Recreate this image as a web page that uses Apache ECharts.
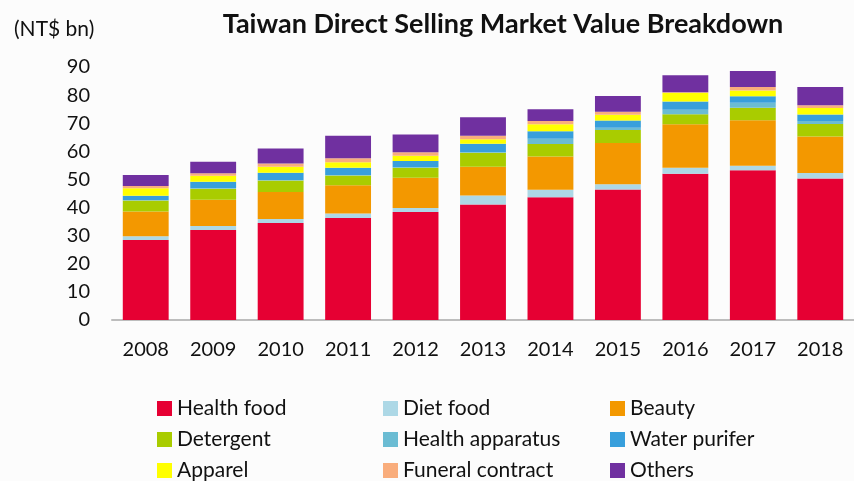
<!DOCTYPE html>
<html>
<head>
<meta charset="utf-8">
<script src="https://cdn.jsdelivr.net/npm/echarts@6/dist/echarts.min.js"></script>
<style>
  html, body { margin: 0; padding: 0; background: #fcfcfc; }
  #main { width: 854px; height: 481px; }
</style>
</head>
<body>
<div id="main"></div>
<script>
var years = ['2008','2009','2010','2011','2012','2013','2014','2015','2016','2017','2018'];

// NT$ bn
var healthFood      = [28.5, 32.0, 34.5, 36.3, 38.4, 41.1, 43.7, 46.4, 52.0, 53.3, 50.3];
var dietFood        = [1.3, 1.4, 1.4, 1.6, 1.4, 3.2, 2.6, 1.9, 2.2, 1.6, 2.0];
var beauty          = [8.8, 9.4, 9.6, 10.0, 10.8, 10.2, 11.9, 14.7, 15.4, 16.2, 13.0];
var detergent       = [3.9, 3.9, 4.1, 3.5, 3.6, 5.0, 4.4, 4.6, 3.6, 4.4, 4.4];
var healthApparatus = [0.2, 0.2, 0.2, 0.2, 0.2, 0.3, 1.9, 0.8, 1.6, 1.8, 1.1];
var waterPurifier   = [1.5, 2.3, 2.6, 2.6, 2.2, 2.9, 2.6, 2.6, 2.9, 2.3, 2.3];
var apparel         = [2.7, 2.1, 2.1, 1.9, 1.8, 1.6, 2.5, 2.0, 3.1, 2.0, 2.3];
var funeral         = [0.8, 0.9, 1.2, 1.4, 1.3, 1.2, 1.2, 1.1, 0.2, 1.3, 1.0];
var others          = [3.9, 4.1, 5.3, 8.0, 6.3, 6.6, 4.2, 5.6, 6.1, 5.7, 6.5];

var font = 'Lato, "Open Sans", sans-serif';

var chart = echarts.init(document.getElementById('main'));

function bar(name, data, color) {
  return {
    name: name,
    type: 'bar',
    stack: 'total',
    barCategoryGap: '32%',
    data: data,
    itemStyle: { color: color },
    emphasis: { disabled: true }
  };
}

var legendBase = {
  orient: 'vertical',
  top: 398,
  height: 83,
  padding: 0,
  itemWidth: 15,
  itemHeight: 15,
  itemGap: 10,
  icon: 'rect',
  selectedMode: false,
  textStyle: { fontFamily: font, fontSize: 21, color: '#111', lineHeight: 20 }
};

var option = {
  backgroundColor: '#fcfcfc',
  animation: false,
  title: [
    {
      text: 'Taiwan Direct Selling Market Value Breakdown',
      left: 498,
      textAlign: 'center',
      top: 6,
      textStyle: { fontFamily: font, fontSize: 27, fontWeight: 'bold', color: '#111' }
    },
    {
      text: '(NT$ bn)',
      left: 9,
      top: 14,
      textStyle: { fontFamily: font, fontSize: 21, fontWeight: 'normal', color: '#111' }
    }
  ],
  legend: [
    Object.assign({}, legendBase, { left: 157, data: ['Health food', 'Detergent', 'Apparel'] }),
    Object.assign({}, legendBase, { left: 383, data: ['Diet food', 'Health apparatus', 'Funeral contract'] }),
    Object.assign({}, legendBase, { left: 610, data: ['Beauty', 'Water purifer', 'Others'] })
  ],
  grid: {
    left: 112,
    top: 67,
    width: 748,
    height: 253
  },
  xAxis: {
    type: 'category',
    data: years,
    axisTick: { show: false },
    axisLine: { lineStyle: { color: '#bdbdbd', width: 2 } },
    axisLabel: { fontFamily: font, fontSize: 20, color: '#111', margin: 20 }
  },
  yAxis: {
    type: 'value',
    min: 0,
    max: 90,
    interval: 10,
    axisLine: { show: false },
    axisTick: { show: false },
    splitLine: { show: false },
    axisLabel: { fontFamily: font, fontSize: 20, color: '#111', margin: 22 }
  },
  series: [
    bar('Health food', healthFood, '#e60033'),
    bar('Diet food', dietFood, '#add8e6'),
    bar('Beauty', beauty, '#f39800'),
    bar('Detergent', detergent, '#a9cc00'),
    bar('Health apparatus', healthApparatus, '#6bbcd3'),
    bar('Water purifer', waterPurifier, '#389fdc'),
    bar('Apparel', apparel, '#ffff00'),
    bar('Funeral contract', funeral, '#f9ad7c'),
    bar('Others', others, '#7030a0')
  ]
};

chart.setOption(option);
</script>
</body>
</html>
